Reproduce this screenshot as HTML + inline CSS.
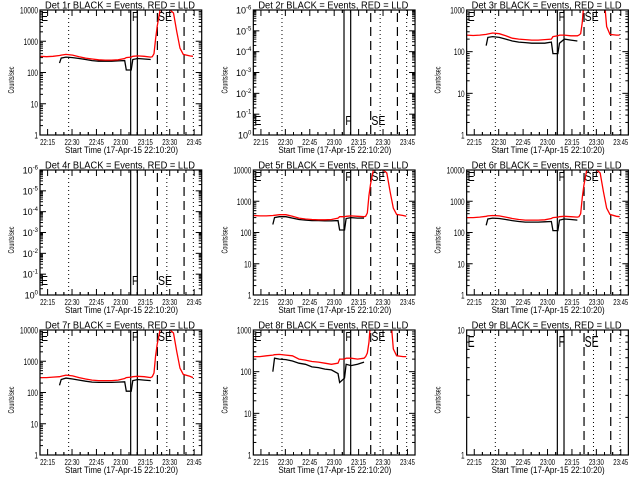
<!DOCTYPE html>
<html><head><meta charset="utf-8"><style>
html,body{margin:0;padding:0;background:#fff;width:640px;height:480px;overflow:hidden}
svg{display:block;font-family:"Liberation Sans",sans-serif}
</style></head><body>
<svg id="chart" width="640" height="480" viewBox="0 0 640 480"></svg>
<script>
// shared time samples (minutes since 22:10:20)
const times = [0,4,8,12,13,16,20,24,28,32,36,40,44,48,52,53,56,57,60,64,68,69,70,71,72,74,78,82,84,86,88,92,94];
const tickLabels = ["22:15","22:30","22:45","23:00","23:15","23:30","23:45"];
const tickMinutes = [4.67,19.67,34.67,49.67,64.67,79.67,94.67];
const dottedLines = [17.6,77.9,94.2];
const solidLines = [55.7,59.8];
const dashedLines = [72.1,88.5];
const N=null;
const red1  = [330,320,330,350,360,380,360,320,290,270,255,250,250,255,280,300,310,330,340,330,310,320,400,1200,3000,12000,12000,8000,2000,600,380,340,330];
const black1= [N,N,N,200,290,310,300,280,260,240,230,230,230,235,240,120,120,260,280,270,260,N,N,N,N,N,N,N,N,N,N,N,N];
const red5  = [350,340,340,350,355,370,370,330,290,270,260,255,255,260,290,320,320,330,340,330,320,330,420,1500,3500,12000,12000,8000,2000,600,380,350,330];
const black5= [N,N,N,180,300,320,320,290,260,250,240,240,235,235,240,120,120,280,300,290,290,N,N,N,N,N,N,N,N,N,N,N,N];
const red6  = [300,300,310,330,340,350,340,310,280,260,250,250,250,255,280,300,310,320,330,320,310,320,400,1300,3200,12000,12000,8000,2000,600,380,330,320];
const black6= [N,N,N,170,270,290,280,260,240,225,215,215,215,220,225,115,115,250,270,260,250,N,N,N,N,N,N,N,N,N,N,N,N];
const red7  = [300,300,310,320,330,360,340,300,270,250,240,240,240,250,280,300,310,320,330,320,300,320,420,1500,3500,12000,12000,8000,2000,600,380,330,300];
const black7= [N,N,N,170,260,290,270,250,230,215,210,210,210,215,220,110,110,240,260,250,240,N,N,N,N,N,N,N,N,N,N,N,N];
const red3  = [250,245,250,260,265,280,270,240,210,200,195,190,190,195,200,230,240,250,250,240,240,250,270,500,1500,3000,3000,3000,3000,400,260,250,250];
const black3= [N,N,N,140,220,230,220,200,180,170,165,160,160,160,170,90,90,160,200,190,180,N,N,N,N,N,N,N,N,N,N,N,N];
const red8  = [230,230,240,250,255,260,250,240,200,190,175,170,160,150,160,200,200,210,210,200,210,230,280,500,1500,3000,3000,3000,3000,350,240,230,230];
const black8= [N,N,N,100,210,200,195,180,160,150,130,125,115,110,90,55,70,150,140,150,170,N,N,N,N,N,N,N,N,N,N,N,N];
const panels = [
 {title:"Det 1r BLACK = Events, RED = LLD", dec:[0,4], red:red1, black:black1, lab:"top"},
 {title:"Det 2r BLACK = Events, RED = LLD", dec:[0,6], neg:true, red:null, black:null, lab:"bot"},
 {title:"Det 3r BLACK = Events, RED = LLD", dec:[0,3], red:red3, black:black3, lab:"top"},
 {title:"Det 4r BLACK = Events, RED = LLD", dec:[0,6], neg:true, red:null, black:null, lab:"bot"},
 {title:"Det 5r BLACK = Events, RED = LLD", dec:[0,4], red:red5, black:black5, lab:"top"},
 {title:"Det 6r BLACK = Events, RED = LLD", dec:[0,4], red:red6, black:black6, lab:"top"},
 {title:"Det 7r BLACK = Events, RED = LLD", dec:[0,4], red:red7, black:black7, lab:"top"},
 {title:"Det 8r BLACK = Events, RED = LLD", dec:[0,3], red:red8, black:black8, lab:"top"},
 {title:"Det 9r BLACK = Events, RED = LLD", dec:[0,1], red:null, black:null, lab:"top9"}
];
const NS="http://www.w3.org/2000/svg";
const svg=document.getElementById('chart');
function mk(tag,attrs,parent){const e=document.createElementNS(NS,tag);for(const k in attrs)e.setAttribute(k,attrs[k]);parent.appendChild(e);return e;}
const BX0=40,BX1=201.7,BY0=10,BY1=135,PXM=1.628;
panels.forEach((p,i)=>{
  const ox=(i%3)*213.33, oy=Math.floor(i/3)*160;
  const g=mk('g',{transform:`translate(${ox.toFixed(2)},${oy})`},svg);
  
  
  const xs=t=>BX0+t*PXM;
  const nd=p.dec[1]-p.dec[0];
  const ys=v=>BY1-(Math.log10(v)-p.dec[0])/nd*(BY1-BY0);
  const cid='clip'+i;
  const cp=mk('clipPath',{id:cid},g);mk('rect',{x:BX0,y:BY0,width:BX1-BX0,height:BY1-BY0},cp);
  const tt=mk('text',{x:45,y:8.5,'font-size':10,textLength:150,lengthAdjust:'spacingAndGlyphs'},g);tt.textContent=p.title;
  
  
  const yt=mk('text',{x:0,y:0,'font-size':8,'text-anchor':'middle',textLength:27,lengthAdjust:'spacingAndGlyphs',transform:'translate(14,80) rotate(-90)'},g);yt.textContent="Counts/sec";
  
  
  const xt=mk('text',{x:65,y:153,'font-size':9,textLength:113,lengthAdjust:'spacingAndGlyphs'},g);xt.textContent="Start Time (17-Apr-15 22:10:20)";
  
  
  for(let d=p.dec[0];d<=p.dec[1];d++){
    const y=BY1-(d-p.dec[0])/nd*(BY1-BY0);
    mk('line',{x1:BX0,x2:BX0+6,y1:y,y2:y,stroke:'#000'},g);
    mk('line',{x1:BX1,x2:BX1-6,y1:y,y2:y,stroke:'#000'},g);
    const lt=mk('text',{x:BX0-2,y:y+3.5,'font-size':9,'text-anchor':'end'},g);
    if(p.neg){lt.innerHTML='10<tspan font-size="6" dy="-4">'+(d===0?'0':'-'+d)+'</tspan>';}
    else{lt.textContent=String(Math.pow(10,d));const s=lt.textContent.length;lt.setAttribute('textLength',s*3.6);lt.setAttribute('lengthAdjust','spacingAndGlyphs');}
    
    
    if(d<p.dec[1]) for(let m=2;m<10;m++){
      const ym=BY1-(d+Math.log10(m)-p.dec[0])/nd*(BY1-BY0);
      mk('line',{x1:BX0,x2:BX0+3,y1:ym,y2:ym,stroke:'#000'},g);
      mk('line',{x1:BX1,x2:BX1-3,y1:ym,y2:ym,stroke:'#000'},g);
    }
  }
  tickMinutes.forEach((t,k)=>{
    const x=xs(t);
    mk('line',{x1:x,x2:x,y1:BY1,y2:BY1-6,stroke:'#000'},g);
    mk('line',{x1:x,x2:x,y1:BY0,y2:BY0+6,stroke:'#000'},g);
    for(let m=-10;m<=10;m+=5){const xm=xs(t+m);if(m!==0&&xm>BX0&&xm<BX1){mk('line',{x1:xm,x2:xm,y1:BY1,y2:BY1-3,stroke:'#000'},g);mk('line',{x1:xm,x2:xm,y1:BY0,y2:BY0+3,stroke:'#000'},g);}}
    const lt=mk('text',{x:x-7.5,y:145,'font-size':8.5,textLength:15,lengthAdjust:'spacingAndGlyphs'},g);lt.textContent=tickLabels[k];
    
    
  });
  dottedLines.forEach(t=>mk('line',{x1:xs(t),x2:xs(t),y1:BY0,y2:BY1,stroke:'#000','stroke-dasharray':'1,3'},g));
  solidLines.forEach(t=>mk('line',{x1:xs(t),x2:xs(t),y1:BY0,y2:BY1,stroke:'#000','stroke-width':1.2},g));
  dashedLines.forEach(t=>mk('line',{x1:xs(t),x2:xs(t),y1:BY0+3,y2:BY1,stroke:'#000','stroke-dasharray':'9,5','stroke-width':1.2},g));
  const ly=p.lab==='bot'?125:(p.lab==='top9'?27:21);
  const fs=p.lab==='top9'?16:13;
  [['E',41,7],['F',132,6],['SE',158,14]].forEach(([s,x,w])=>{
    const e=mk('text',{x:x,y:ly,'font-size':fs,textLength:w,lengthAdjust:'spacingAndGlyphs'},g);e.textContent=s;
    
    
  });
  function series(vals,color,name){
    if(!vals)return;
    let d='',pen=false;
    vals.forEach((v,k)=>{
      if(v===null){pen=false;return;}
      const x=xs(times[k]).toFixed(1),y=ys(v).toFixed(1);
      d+=(pen?'L':'M')+x+' '+y;pen=true;
    });
    const pth=mk('path',{d:d,fill:'none',stroke:color,'stroke-width':1.3,'clip-path':`url(#${cid})`},g);
    
    
  }
  series(p.black,'#000','events-series');
  series(p.red,'#ff0000','lld-series');
  const bx=mk('rect',{x:BX0,y:BY0,width:BX1-BX0,height:BY1-BY0,fill:'none',stroke:'#000','stroke-width':1.2},g);
  
  
});
</script>
</body></html>
